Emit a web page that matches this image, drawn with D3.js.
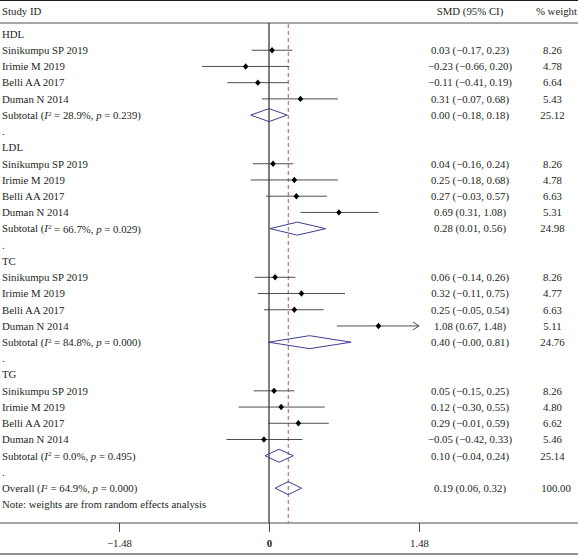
<!DOCTYPE html>
<html><head><meta charset="utf-8">
<script src="https://cdn.jsdelivr.net/npm/d3@7"></script>
<style>
html,body{margin:0;padding:0;background:#fff;}
svg text{font-family:"Liberation Serif","DejaVu Serif",serif;font-size:10.8px;fill:#231f20;}
</style></head>
<body><svg id="c" width="578" height="555"></svg>
<script>
const groups = ["HDL", "LDL", "TC", "TG"];
const studies = ["Sinikumpu SP 2019", "Irimie M 2019", "Belli AA 2017", "Duman N 2014"];
const smd   = [[0.03, -0.23, -0.11, 0.31], [0.04, 0.25, 0.27, 0.69], [0.06, 0.32, 0.25, 1.08], [0.05, 0.12, 0.29, -0.05]];
const lower = [[-0.17, -0.66, -0.41, -0.07], [-0.16, -0.18, -0.03, 0.31], [-0.14, -0.11, -0.05, 0.67], [-0.15, -0.30, -0.01, -0.42]];
const upper = [[0.23, 0.20, 0.19, 0.68], [0.24, 0.68, 0.57, 1.08], [0.26, 0.75, 0.54, 1.48], [0.25, 0.55, 0.59, 0.33]];
const weight = [[8.26, 4.78, 6.64, 5.43], [8.26, 4.78, 6.63, 5.31], [8.26, 4.77, 6.63, 5.11], [8.26, 4.80, 6.62, 5.46]];
const subSmd = [0.00, 0.28, 0.40, 0.10];
const subLower = [-0.18, 0.01, -0.004, -0.04];
const subUpper = [0.18, 0.56, 0.81, 0.24];
const subWeight = [25.12, 24.98, 24.76, 25.14];
const subI2 = ["28.9%", "66.7%", "84.8%", "0.0%"];
const subP = ["0.239", "0.029", "0.000", "0.495"];
const overall = {smd: 0.19, lower: 0.06, upper: 0.32, weight: 100.00, i2: "64.9%", p: "0.000"};
const ticks = [-1.48, 0, 1.48];

const svg = d3.select("#c");
const W = 578;
const x = d3.scaleLinear().domain([-1.48, 1.48]).range([119, 419]);
const rowY = i => 34 + i * 16.22;
const fmt = v => v.toFixed(2).replace("-", "\u2212");
const ci = (e, l, u) => `${fmt(e)} (${fmt(l)}, ${fmt(u)})`;

// build rows
const rows = [];
groups.forEach((g, gi) => {
  rows.push({type: "head", label: g});
  studies.forEach((s, si) => rows.push({type: "study", label: s, e: smd[gi][si], l: lower[gi][si], u: upper[gi][si], w: weight[gi][si]}));
  rows.push({type: "sub", label: "Subtotal", i2: subI2[gi], p: subP[gi], e: subSmd[gi], l: subLower[gi], u: subUpper[gi], w: subWeight[gi]});
  rows.push({type: "dot", label: "."});
});
rows.push({type: "overall", label: "Overall", i2: overall.i2, p: overall.p, e: overall.smd, l: overall.lower, u: overall.upper, w: overall.weight});
rows.push({type: "note", label: "Note: weights are from random effects analysis"});
rows.forEach((r, i) => r.y = rowY(i));

const axisY = 523;
// frame lines
svg.append("line").attr("x1", 0).attr("x2", W).attr("y1", 0.5).attr("y2", 0.5).attr("stroke", "#231f20").attr("stroke-width", 1.2);
svg.append("line").attr("x1", 0).attr("x2", W).attr("y1", 23).attr("y2", 23).attr("stroke", "#231f20").attr("stroke-width", 0.8);
svg.append("line").attr("x1", 0).attr("x2", W).attr("y1", 554).attr("y2", 554).attr("stroke", "#231f20").attr("stroke-width", 1.2);

// headers
svg.append("text").attr("x", 2).attr("y", 11).attr("dy", "0.35em").text("Study ID");
svg.append("text").attr("x", 470).attr("y", 11).attr("dy", "0.35em").attr("text-anchor", "middle").text("SMD (95% CI)");
svg.append("text").attr("x", 577).attr("y", 11).attr("dy", "0.35em").attr("text-anchor", "end").text("% weight");

// axis
const axisG = svg.append("g").attr("transform", `translate(0,${axisY})`);
axisG.append("line").attr("x1", 0).attr("x2", W).attr("y1", 0).attr("y2", 0).attr("stroke", "#231f20").attr("stroke-width", 0.8);
const axis = d3.axisBottom(x).tickValues(ticks).tickSize(9).tickPadding(7)
  .tickFormat(d => d === 0 ? "0" : fmt(d));
const ag = axisG.append("g").call(axis);
ag.select(".domain").remove();
ag.selectAll(".tick line").attr("stroke", "#231f20").attr("stroke-width", 0.8);
ag.selectAll(".tick text").attr("font-family", null).attr("font-size", null).style("font-weight", d => d === 0 ? "bold" : "normal");

// zero line
svg.append("line").attr("x1", x(0)).attr("x2", x(0)).attr("y1", 23).attr("y2", axisY).attr("stroke", "#000").attr("stroke-width", 1);
// overall dashed line
svg.append("line").attr("x1", x(overall.smd)).attr("x2", x(overall.smd)).attr("y1", 24).attr("y2", axisY)
  .attr("stroke", "#b5506e").attr("stroke-width", 1).attr("stroke-dasharray", "4,3");

const xmax = x.domain()[1];
// labels
rows.forEach(r => {
  const t = svg.append("text").attr("x", 2).attr("y", r.y).attr("dy", "0.35em");
  if (r.type === "sub" || r.type === "overall") {
    t.append("tspan").text(r.label + " (");
    t.append("tspan").attr("font-style", "italic").text("I");
    t.append("tspan").attr("font-size", "7px").attr("dy", "-0.45em").text("2");
    t.append("tspan").attr("dy", "0.3em").text(` = ${r.i2}, `);
    t.append("tspan").attr("font-style", "italic").text("p");
    t.append("tspan").text(` = ${r.p})`);
  } else {
    t.text(r.label);
  }
  if (r.e !== undefined) {
    svg.append("text").attr("x", 470).attr("y", r.y).attr("dy", "0.35em").attr("text-anchor", "middle").text(ci(r.e, r.l, r.u));
    svg.append("text").attr("x", r.type === "overall" ? 556 : 552.5).attr("y", r.y).attr("dy", "0.35em").attr("text-anchor", "middle").text(r.w.toFixed(2));
  }
});

// study CIs
rows.filter(r => r.type === "study").forEach(r => {
  const u = Math.min(r.u, xmax);
  svg.append("line").attr("x1", x(r.l)).attr("x2", x(u)).attr("y1", r.y).attr("y2", r.y)
    .attr("stroke", "#3a3a3a").attr("stroke-width", 0.9);
  if (r.u >= xmax) {
    const ax = x(u);
    svg.append("path").attr("d", `M${ax - 6},${r.y - 4}L${ax},${r.y}L${ax - 6},${r.y + 4}`)
      .attr("fill", "none").attr("stroke", "#3a3a3a").attr("stroke-width", 0.9);
  }
  const cx = x(r.e);
  svg.append("path").attr("d", `M${cx},${r.y - 3.2}L${cx + 2.8},${r.y}L${cx},${r.y + 3.2}L${cx - 2.8},${r.y}Z`).attr("fill", "#000");
});

// diamonds
rows.filter(r => r.type === "sub" || r.type === "overall").forEach(r => {
  const h = 6.5;
  svg.append("path").attr("d", `M${x(r.l)},${r.y}L${x(r.e)},${r.y - h}L${x(r.u)},${r.y}L${x(r.e)},${r.y + h}Z`)
    .attr("fill", "none").attr("stroke", "#3d3f8f").attr("stroke-width", 1);
});
</script></body></html>
